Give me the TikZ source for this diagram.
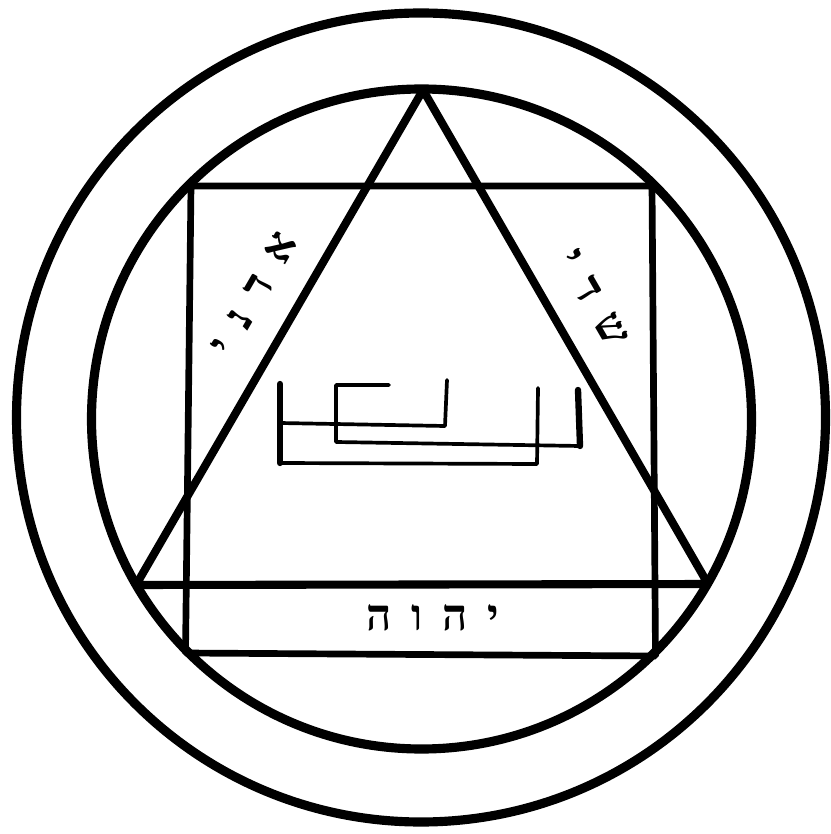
\documentclass[tikz,border=0pt]{standalone}
\usepackage{fontspec}
\newfontfamily\hebfont[Script=Hebrew,LetterSpace=45]{Liberation Serif}
\TeXXeTstate=1

\begin{document}
\begin{tikzpicture}[
  x=0.01cm, y=-0.01cm,
  ring/.style={draw, line width=2.6pt},
  tri/.style={draw, line width=2.3pt, line join=bevel},
  edge/.style={draw, line width=1.9pt, line join=bevel},
  sigil/.style={draw, line width=1.05pt, line join=round, line cap=round},
  stem/.style={draw, line width=1.8pt, line cap=round},
  word/.style={font=\hebfont\bfseries\fontsize{12.5}{15}\selectfont, inner sep=0pt},
]
\useasboundingbox (0,0) rectangle (831,834);

% Rings
\coordinate (C1) at (421,417.5);
\coordinate (C2) at (421.5,419);
\path[ring] (C1) circle (404.5);
\path[ring] (C2) circle (330);

% Triangle
\coordinate (TA) at (423,90);
\coordinate (TL) at (136,585);
\coordinate (TR) at (708,584);
\path[tri] (TA) -- (TL) -- (TR) -- cycle;

% Square
\coordinate (SA) at (191,186);
\coordinate (SB) at (652,186);
\coordinate (SC) at (655.5,656);
\coordinate (SD) at (185.5,653);
\path[edge] (SA) -- (SB) -- (SC) -- (SD) -- cycle;

% Names
\node[word, rotate=60]  (adonai)  at (254,294) {\beginR אדני\endR};
\node[word, rotate=-60] (shaddai) at (593,298) {\beginR שדי\endR};
\node[word]             (yhvh)    at (433,618) {\beginR יהוה\endR};

% Sigil in the middle
\coordinate (P1) at (280,384);
\coordinate (P2) at (280,463);
\coordinate (P3) at (537,464);
\coordinate (P4) at (538,388);
\coordinate (P5) at (280,423);
\coordinate (P6) at (445,426);
\coordinate (P7) at (447,380);
\coordinate (P8) at (389,385);
\coordinate (P9) at (336,385);
\coordinate (P10) at (336,442);
\coordinate (P11) at (580,446);
\coordinate (P12) at (578,390);
\path[sigil] (P4) -- (P3) -- (P2) -- (P1);
\path[sigil] (P5) -- (P6) -- (P7);
\path[sigil] (P8) -- (P9) -- (P10) -- (P11) -- (P12);
\path[stem] (P1) -- (P2);
\path[stem] (P11) -- (P12);

\end{tikzpicture}
\end{document}
